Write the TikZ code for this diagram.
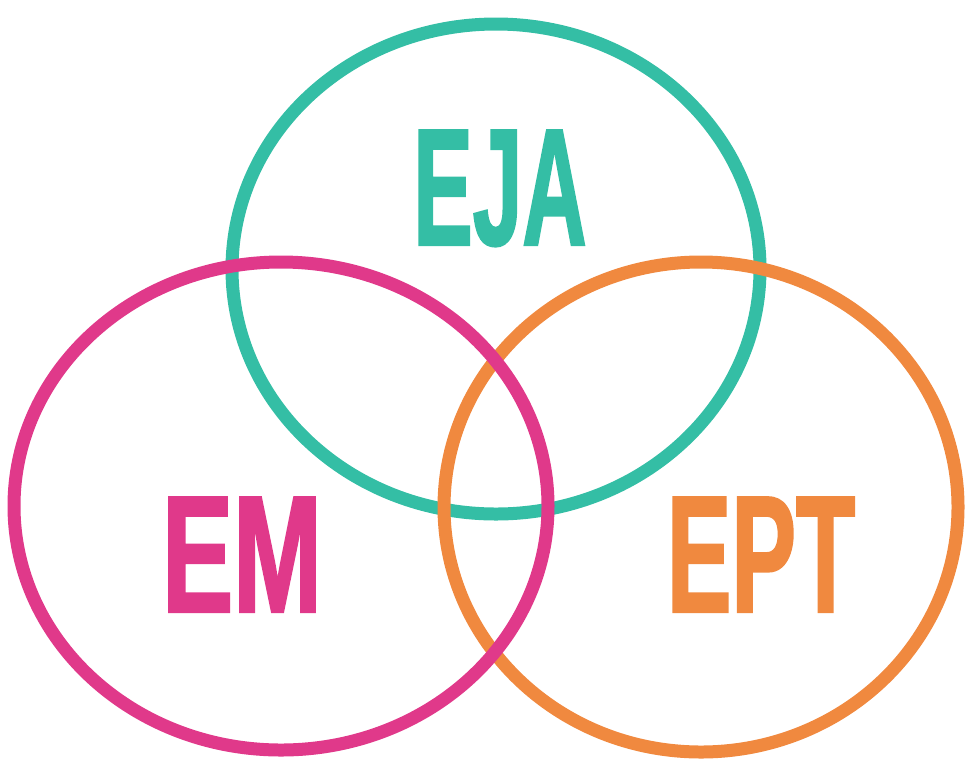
\documentclass[tikz,border=0pt]{standalone}
\usepackage{fontspec}
\newfontfamily\vennfont[FakeStretch=0.58,FakeBold=1.2]{Liberation Sans}
\definecolor{ejateal}{RGB}{52,190,165}
\definecolor{empink}{RGB}{224,57,138}
\definecolor{eptorange}{RGB}{240,137,63}
\tikzset{
  ring/.style={line width=0.26cm},
  settag/.style={anchor=base,inner sep=0pt,font=\vennfont\bfseries\fontsize{95}{95}\selectfont}
}
\begin{document}
\begin{tikzpicture}[x=0.02cm,y=-0.02cm]
			\useasboundingbox (0,0) rectangle (966,758);
			\coordinate (EJA) at (496,269);
			\coordinate (EM) at (281,506);
			\coordinate (EPT) at (701,507);
			% rings, teal under orange under pink
			\draw[ring,ejateal] (EJA) ellipse [x radius=264,y radius=245];
			\draw[ring,eptorange] (EPT) ellipse [x radius=257,y radius=245];
			\draw[ring,empink] (EM) ellipse [x radius=267,y radius=244];
			% labels
			\node[settag,text=ejateal,xscale=0.92] (ejatext) at (500,245) {EJA};
			\node[settag,text=empink,xscale=1.1] (emtext) at (242,612) {EM};
			\node[settag,text=eptorange] (epttext) at (761,612) {EPT};
		\end{tikzpicture}
\end{document}
